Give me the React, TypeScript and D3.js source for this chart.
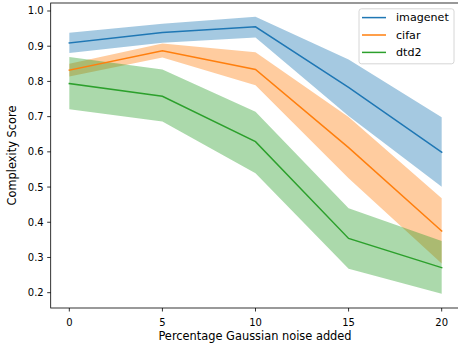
import React from "react";
import * as d3 from "d3";

const xs = [0, 5, 10, 15, 20];
const imagenetMean = [0.909, 0.939, 0.955, 0.783, 0.599];
const imagenetLow = [0.881, 0.91, 0.925, 0.702, 0.501];
const imagenetHigh = [0.938, 0.964, 0.984, 0.862, 0.698];
const cifarMean = [0.832, 0.887, 0.834, 0.612, 0.375];
const cifarLow = [0.814, 0.868, 0.789, 0.525, 0.283];
const cifarHigh = [0.85, 0.908, 0.883, 0.699, 0.468];
const dtdMean = [0.794, 0.758, 0.629, 0.354, 0.271];
const dtdLow = [0.721, 0.686, 0.539, 0.268, 0.197];
const dtdHigh = [0.869, 0.834, 0.714, 0.44, 0.347];
const xTicks = [0, 5, 10, 15, 20];
const yTicks = [0.2, 0.3, 0.4, 0.5, 0.6, 0.7, 0.8, 0.9, 1.0];
const seriesNames = ["imagenet", "cifar", "dtd2"];
const colors = ["#1f77b4", "#ff7f0e", "#2ca02c"];

export default function App() {
  const W = 458, H = 343;
  const left = 50.7, right = 460.3, top = 3, bottom = 308;
  const x = d3.scaleLinear().domain([-1, 21]).range([left, right]);
  const y = d3.scaleLinear().domain([0.1565, 1.0227]).range([bottom, top]);
  const series = [
    { mean: imagenetMean, lo: imagenetLow, hi: imagenetHigh },
    { mean: cifarMean, lo: cifarLow, hi: cifarHigh },
    { mean: dtdMean, lo: dtdLow, hi: dtdHigh },
  ];
  const area = d3.area<number>()
    .x((_, i) => x(xs[i]));
  const line = d3.line<number>().x((_, i) => x(xs[i])).y((d) => y(d));
  const font = "'DejaVu Sans', sans-serif";
  return (
    <svg width={W} height={H} style={{ position: "absolute", left: 0, top: 0 }} fontFamily={font}>
      <defs>
        <clipPath id="clip">
          <rect x={left} y={top} width={right - left} height={bottom - top} />
        </clipPath>
      </defs>
      <rect width={W} height={H} fill="white" />
      <g clipPath="url(#clip)">
        {series.map((s, k) => (
          <path key={"a" + k}
            d={area.y0((_, i) => y(s.lo[i])).y1((_, i) => y(s.hi[i]))(s.mean) || ""}
            fill={colors[k]} fillOpacity={0.4} stroke="none" />
        ))}
        {series.map((s, k) => (
          <path key={"l" + k} d={line(s.mean) || ""} fill="none" stroke={colors[k]} strokeWidth={1.5} strokeLinecap="square" />
        ))}
      </g>
      <rect x={left} y={top} width={right - left} height={bottom - top} fill="none" stroke="black" strokeWidth={0.8} />
      {xTicks.map((t) => (
        <g key={"x" + t}>
          <line x1={x(t)} x2={x(t)} y1={bottom} y2={bottom + 3.5} stroke="black" strokeWidth={0.8} />
          <text x={x(t)} y={bottom + 17.5} textAnchor="middle" fontSize={10} fill="#000">{t}</text>
        </g>
      ))}
      {yTicks.map((t) => (
        <g key={"y" + t}>
          <line x1={left - 3.5} x2={left} y1={y(t)} y2={y(t)} stroke="black" strokeWidth={0.8} />
          <text x={left - 7} y={y(t)} dy="0.35em" textAnchor="end" fontSize={10} fill="#000">{t.toFixed(1)}</text>
        </g>
      ))}
      <text x={255} y={340} textAnchor="middle" fontSize={11.4} fill="#000">Percentage Gaussian noise added</text>
      <text transform={`translate(15.5,${(top + bottom) / 2}) rotate(-90)`} textAnchor="middle" fontSize={11.4} fill="#000">Complexity Score</text>
      <g>
        <rect x={359} y={8.8} width={95} height={55} rx={2.5} fill="white" fillOpacity={0.8} stroke="#cccccc" strokeWidth={0.8} />
        {seriesNames.map((n, k) => (
          <g key={n}>
            <line x1={362} x2={386} y1={17.6 + k * 17.4} y2={17.6 + k * 17.4} stroke={colors[k]} strokeWidth={1.5} />
            <text x={396} y={17.6 + k * 17.4} dy="0.35em" fontSize={11.1} fill="#000">{n}</text>
          </g>
        ))}
      </g>
    </svg>
  );
}
